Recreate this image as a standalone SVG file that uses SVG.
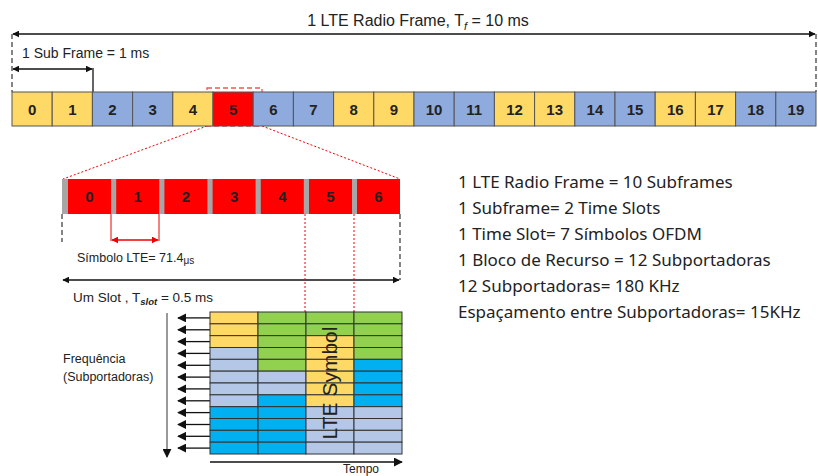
<svg xmlns="http://www.w3.org/2000/svg" width="818" height="476" viewBox="0 0 818 476">
<defs>
<marker id="ah" viewBox="0 0 10 10" refX="9" refY="5" markerWidth="7" markerHeight="7" orient="auto-start-reverse" markerUnits="userSpaceOnUse">
<path d="M0,0 L10,5 L0,10 z" fill="#111"/>
</marker>
<marker id="ahs" viewBox="0 0 10 10" refX="9" refY="5" markerWidth="9" markerHeight="9" orient="auto-start-reverse" markerUnits="userSpaceOnUse">
<path d="M0,0 L10,5 L0,10 z" fill="#111"/>
</marker>
<marker id="ahr" viewBox="0 0 10 10" refX="9" refY="5" markerWidth="7" markerHeight="7" orient="auto-start-reverse" markerUnits="userSpaceOnUse">
<path d="M0,0 L10,5 L0,10 z" fill="#e00"/>
</marker>
</defs>
<style>
.lbl{font-family:"Liberation Sans",Arial,sans-serif;fill:#222}
.num{font-family:"Liberation Sans",Arial,sans-serif;font-weight:bold;font-size:15px;fill:#222;text-anchor:middle}
.y{fill:#FFD966;stroke:#555;stroke-width:1}
.b{fill:#8FAADC;stroke:#555;stroke-width:1}
.r{fill:#FF0000;stroke:#555;stroke-width:1}
.sym{fill:#FF0000}
.gy{fill:#FFD966}.gg{fill:#92D050}.gb{fill:#00B0F0}.gl{fill:#B4C7E7}
.ax{stroke:#111;stroke-width:1.3;fill:none}
.dash{stroke:#444;stroke-width:1.3;stroke-dasharray:5,3;fill:none}
.rdot{stroke:#e00;stroke-width:1;stroke-dasharray:2,2;fill:none}
.rdash{stroke:#e55;stroke-width:1.3;stroke-dasharray:5,3;fill:none}
.rt{font-family:"Noto Sans","Open Sans",sans-serif;font-size:17px;fill:#222}
</style>

<g id="frame-label">
<text class="lbl" x="418" y="26" font-size="16" text-anchor="middle">1 LTE Radio Frame, T<tspan font-size="11" font-style="italic" dy="4">f</tspan><tspan dy="-4"> = 10 ms</tspan></text>
<text class="lbl" x="22" y="58" font-size="14">1 Sub Frame = 1 ms</text>
</g>

<g id="connectors">
<line class="ax" x1="13" y1="34" x2="815" y2="34" marker-start="url(#ah)" marker-end="url(#ah)"/>
<line class="dash" x1="12" y1="34" x2="12" y2="92"/>
<line class="dash" x1="816" y1="34" x2="816" y2="92"/>
<line class="ax" x1="13" y1="69" x2="92" y2="69" marker-start="url(#ah)" marker-end="url(#ah)"/>
<line class="ax" x1="93" y1="68" x2="93" y2="92"/>
<rect class="rdash" x="207" y="88" width="55" height="38" fill="none"/>
<line class="rdot" x1="207" y1="126" x2="63" y2="179"/>
<line class="rdot" x1="262" y1="126" x2="400" y2="179"/>
<line class="dash" x1="62" y1="214" x2="62" y2="242"/>
<line class="dash" x1="400" y1="214" x2="400" y2="280"/>
<line stroke="#e00" stroke-width="1" x1="111" y1="214" x2="111" y2="241"/>
<line stroke="#e00" stroke-width="1" x1="159" y1="214" x2="159" y2="241"/>
<line stroke="#e00" stroke-width="1.3" x1="112" y1="240" x2="158" y2="240" marker-start="url(#ahr)" marker-end="url(#ahr)"/>
<line class="ax" x1="63" y1="280" x2="399" y2="280" marker-start="url(#ah)" marker-end="url(#ah)"/>
<line class="rdot" x1="305" y1="214" x2="305" y2="312"/>
<line class="rdot" x1="354" y1="214" x2="354" y2="312"/>
<line stroke="#777" stroke-width="1.5" x1="167" y1="313" x2="167" y2="457" marker-end="url(#ahs)"/>
<line class="ax" x1="210" y1="462" x2="402" y2="462" marker-end="url(#ahs)"/>
<g class="ax" stroke-width="1.5">
<line x1="210" y1="317.9" x2="178" y2="317.9" marker-end="url(#ahs)"/>
<line x1="210" y1="329.8" x2="178" y2="329.8" marker-end="url(#ahs)"/>
<line x1="210" y1="341.6" x2="178" y2="341.6" marker-end="url(#ahs)"/>
<line x1="210" y1="353.4" x2="178" y2="353.4" marker-end="url(#ahs)"/>
<line x1="210" y1="365.3" x2="178" y2="365.3" marker-end="url(#ahs)"/>
<line x1="210" y1="377.1" x2="178" y2="377.1" marker-end="url(#ahs)"/>
<line x1="210" y1="388.9" x2="178" y2="388.9" marker-end="url(#ahs)"/>
<line x1="210" y1="400.8" x2="178" y2="400.8" marker-end="url(#ahs)"/>
<line x1="210" y1="412.6" x2="178" y2="412.6" marker-end="url(#ahs)"/>
<line x1="210" y1="424.5" x2="178" y2="424.5" marker-end="url(#ahs)"/>
<line x1="210" y1="436.3" x2="178" y2="436.3" marker-end="url(#ahs)"/>
<line x1="210" y1="448.1" x2="178" y2="448.1" marker-end="url(#ahs)"/>
</g>
</g>

<g id="subframes">
<rect class="y" x="12" y="92" width="40.2" height="34"/>
<rect class="y" x="52.2" y="92" width="40.2" height="34"/>
<rect class="b" x="92.4" y="92" width="40.2" height="34"/>
<rect class="b" x="132.6" y="92" width="40.2" height="34"/>
<rect class="y" x="172.8" y="92" width="40.2" height="34"/>
<rect class="r" x="213" y="92" width="40.2" height="34"/>
<rect class="b" x="253.2" y="92" width="40.2" height="34"/>
<rect class="b" x="293.4" y="92" width="40.2" height="34"/>
<rect class="y" x="333.6" y="92" width="40.2" height="34"/>
<rect class="y" x="373.8" y="92" width="40.2" height="34"/>
<rect class="b" x="414" y="92" width="40.2" height="34"/>
<rect class="b" x="454.2" y="92" width="40.2" height="34"/>
<rect class="y" x="494.4" y="92" width="40.2" height="34"/>
<rect class="y" x="534.6" y="92" width="40.2" height="34"/>
<rect class="b" x="574.8" y="92" width="40.2" height="34"/>
<rect class="b" x="615" y="92" width="40.2" height="34"/>
<rect class="y" x="655.2" y="92" width="40.2" height="34"/>
<rect class="y" x="695.4" y="92" width="40.2" height="34"/>
<rect class="b" x="735.6" y="92" width="40.2" height="34"/>
<rect class="b" x="775.8" y="92" width="40.2" height="34"/>
<text class="num" x="32.1" y="114.5">0</text>
<text class="num" x="72.3" y="114.5">1</text>
<text class="num" x="112.5" y="114.5">2</text>
<text class="num" x="152.7" y="114.5">3</text>
<text class="num" x="192.9" y="114.5">4</text>
<text class="num" x="233.1" y="114.5">5</text>
<text class="num" x="273.3" y="114.5">6</text>
<text class="num" x="313.5" y="114.5">7</text>
<text class="num" x="353.7" y="114.5">8</text>
<text class="num" x="393.9" y="114.5">9</text>
<text class="num" x="434.1" y="114.5">10</text>
<text class="num" x="474.3" y="114.5">11</text>
<text class="num" x="514.5" y="114.5">12</text>
<text class="num" x="554.7" y="114.5">13</text>
<text class="num" x="594.9" y="114.5">14</text>
<text class="num" x="635.1" y="114.5">15</text>
<text class="num" x="675.3" y="114.5">16</text>
<text class="num" x="715.5" y="114.5">17</text>
<text class="num" x="755.7" y="114.5">18</text>
<text class="num" x="795.9" y="114.5">19</text>
</g>

<g id="symbols">
<rect x="62" y="179" width="338" height="35" fill="#A6A6A6"/>
<rect class="sym" x="68" y="179" width="43" height="35"/>
<rect class="sym" x="116.2" y="179" width="43" height="35"/>
<rect class="sym" x="164.4" y="179" width="43" height="35"/>
<rect class="sym" x="212.6" y="179" width="43" height="35"/>
<rect class="sym" x="260.8" y="179" width="43" height="35"/>
<rect class="sym" x="309" y="179" width="43" height="35"/>
<rect class="sym" x="357" y="179" width="43" height="35"/>
<text class="num" x="89.5" y="202">0</text>
<text class="num" x="137.7" y="202">1</text>
<text class="num" x="185.9" y="202">2</text>
<text class="num" x="234.1" y="202">3</text>
<text class="num" x="282.3" y="202">4</text>
<text class="num" x="330.5" y="202">5</text>
<text class="num" x="378.5" y="202">6</text>
</g>

<g id="slot-labels">
<text class="lbl" x="77" y="262" font-size="12.5" fill="#333">Símbolo LTE= 71.4<tspan font-size="10" dy="2">μs</tspan></text>
<text class="lbl" x="73" y="302" font-size="13.5">Um Slot , T<tspan font-size="9.5" font-style="italic" font-weight="bold" dy="3">slot</tspan><tspan dy="-3"> = 0.5 ms</tspan></text>
</g>

<g id="resource-grid" stroke="#333" stroke-width="1">
<rect class="gy" x="210" y="312" width="48" height="11.83"/><rect class="gg" x="258" y="312" width="48" height="11.83"/><rect class="gg" x="306" y="312" width="48" height="11.83"/><rect class="gg" x="354" y="312" width="48" height="11.83"/>
<rect class="gy" x="210" y="323.83" width="48" height="11.83"/><rect class="gg" x="258" y="323.83" width="48" height="11.83"/><rect class="gg" x="306" y="323.83" width="48" height="11.83"/><rect class="gg" x="354" y="323.83" width="48" height="11.83"/>
<rect class="gy" x="210" y="335.67" width="48" height="11.83"/><rect class="gg" x="258" y="335.67" width="48" height="11.83"/><rect class="gy" x="306" y="335.67" width="48" height="11.83"/><rect class="gg" x="354" y="335.67" width="48" height="11.83"/>
<rect class="gl" x="210" y="347.5" width="48" height="11.83"/><rect class="gg" x="258" y="347.5" width="48" height="11.83"/><rect class="gy" x="306" y="347.5" width="48" height="11.83"/><rect class="gg" x="354" y="347.5" width="48" height="11.83"/>
<rect class="gl" x="210" y="359.33" width="48" height="11.83"/><rect class="gg" x="258" y="359.33" width="48" height="11.83"/><rect class="gy" x="306" y="359.33" width="48" height="11.83"/><rect class="gb" x="354" y="359.33" width="48" height="11.83"/>
<rect class="gl" x="210" y="371.17" width="48" height="11.83"/><rect class="gl" x="258" y="371.17" width="48" height="11.83"/><rect class="gy" x="306" y="371.17" width="48" height="11.83"/><rect class="gb" x="354" y="371.17" width="48" height="11.83"/>
<rect class="gl" x="210" y="383" width="48" height="11.83"/><rect class="gl" x="258" y="383" width="48" height="11.83"/><rect class="gy" x="306" y="383" width="48" height="11.83"/><rect class="gb" x="354" y="383" width="48" height="11.83"/>
<rect class="gl" x="210" y="394.83" width="48" height="11.83"/><rect class="gb" x="258" y="394.83" width="48" height="11.83"/><rect class="gy" x="306" y="394.83" width="48" height="11.83"/><rect class="gb" x="354" y="394.83" width="48" height="11.83"/>
<rect class="gb" x="210" y="406.67" width="48" height="11.83"/><rect class="gb" x="258" y="406.67" width="48" height="11.83"/><rect class="gl" x="306" y="406.67" width="48" height="11.83"/><rect class="gl" x="354" y="406.67" width="48" height="11.83"/>
<rect class="gb" x="210" y="418.5" width="48" height="11.83"/><rect class="gb" x="258" y="418.5" width="48" height="11.83"/><rect class="gl" x="306" y="418.5" width="48" height="11.83"/><rect class="gl" x="354" y="418.5" width="48" height="11.83"/>
<rect class="gb" x="210" y="430.33" width="48" height="11.83"/><rect class="gb" x="258" y="430.33" width="48" height="11.83"/><rect class="gl" x="306" y="430.33" width="48" height="11.83"/><rect class="gl" x="354" y="430.33" width="48" height="11.83"/>
<rect class="gb" x="210" y="442.17" width="48" height="11.83"/><rect class="gb" x="258" y="442.17" width="48" height="11.83"/><rect class="gl" x="306" y="442.17" width="48" height="11.83"/><rect class="gl" x="354" y="442.17" width="48" height="11.83"/>
<text class="lbl" transform="translate(337,383) rotate(-90)" font-size="21" text-anchor="middle" stroke="none" fill="#222">LTE Symbol</text>
</g>

<g id="axis-labels">
<text class="lbl" x="63" y="363" font-size="12.5" fill="#404040">Frequência</text>
<text class="lbl" x="63" y="381" font-size="12.5" fill="#404040">(Subportadoras)</text>
<text class="lbl" x="343" y="473" font-size="12">Tempo</text>
</g>

<g id="summary">
<text class="rt" x="458" y="188">1 LTE Radio Frame = 10 Subframes</text>
<text class="rt" x="458" y="214">1 Subframe= 2 Time Slots</text>
<text class="rt" x="458" y="240">1 Time Slot= 7 Símbolos OFDM</text>
<text class="rt" x="458" y="266">1 Bloco de Recurso = 12 Subportadoras</text>
<text class="rt" x="458" y="292">12 Subportadoras= 180 KHz</text>
<text class="rt" x="458" y="318">Espaçamento entre Subportadoras= 15KHz</text>
</g>
</svg>
